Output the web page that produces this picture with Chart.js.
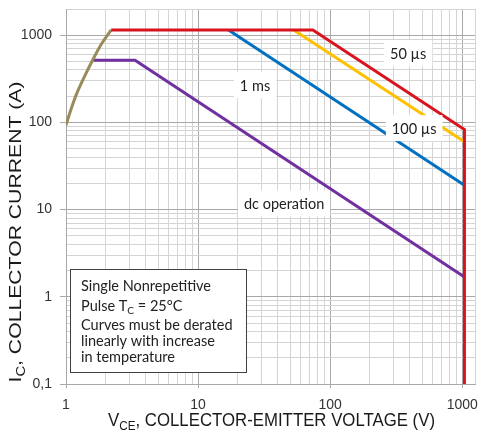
<!DOCTYPE html>
<html lang="en">
<head>
  <meta charset="UTF-8" />
  <title>Safe Operating Area</title>
  <script src="https://cdn.jsdelivr.net/npm/chart.js@4.4.0/dist/chart.umd.min.js"></script>
  <style>
    body { margin: 0; background: #fff; }
    #wrap { width: 479px; height: 441px; }
  </style>
</head>
<body>
  <div id="wrap"><canvas id="soa" width="479" height="441"></canvas></div>

  <script>
    // SOA boundaries (V in volts, I in amps)
    const rampV = [1, 1.085, 1.205, 1.376, 1.59, 1.864, 2.2];
    const rampI = [93, 138, 214, 333, 517, 803, 1150];
    const us50V = [2.2, 74, 1040, 1040];
    const us50I = [1150, 1150, 83, 0.1];
    const us100V = [53, 1040];
    const us100I = [1150, 60];
    const ms1V = [17, 1040];
    const ms1I = [1150, 19];
    const dcV = [1.59, 3.33, 1040];
    const dcI = [517, 517, 1.69];

    const xTickVals = [1, 10, 100, 1000];
    const xTickLabels = ['1', '10', '100', '1000'];
    const yTickVals = [0.1, 1, 10, 100, 1000];
    const yTickLabels = ['0,1', '1', '10', '100', '1000'];

    // curve captions, anchored at data coordinates
    const capText = ['50 µs', '1 ms', '100 µs', 'dc operation'];
    const capV = [390, 27, 433, 44.8];
    const capI = [622, 267, 86, 11.8];

    const noteLines = ['Single Nonrepetitive', 'Pulse T_{C} = 25°C', 'Curves must be derated',
                       'linearly with increase', 'in temperature'];
    const xTitle = 'V_{CE}, COLLECTOR-EMITTER VOLTAGE (V)';
    const yTitle = 'I_{C}, COLLECTOR CURRENT (A)';

    const SANS = '"Liberation Sans", Arial, sans-serif';
    const NOTE = 'Lato, "Open Sans", sans-serif';

    // grid lines at 1..9 of every decade
    function decadeGrid(from, to) {
      const out = [];
      for (let d = from; d < to; d *= 10) {
        for (let m = 1; m <= 9; m++) out.push(Number((m * d).toPrecision(3)));
      }
      return out;
    }
    const xGrid = decadeGrid(1, 1000).concat([1000, 1250]);
    const yGrid = decadeGrid(0.1, 1000).concat([1000, 2000]);

    const isMajor = (v, list) => list.some(t => Math.abs(t - v) < t * 1e-6);
    function tickLabel(v, vals, labels) {
      const i = vals.findIndex(t => Math.abs(t - v) < t * 1e-6);
      return i >= 0 ? labels[i] : '';
    }

    function pts(xs, ys) { return xs.map((x, i) => ({x: x, y: ys[i]})); }
    function curve(label, xs, ys, color, tension) {
      return {
        label: label, data: pts(xs, ys), borderColor: color, borderWidth: 3,
        pointRadius: 0, tension: tension || 0, fill: false
      };
    }

    // text with _{sub} parts
    function parts(s) {
      const out = [];
      const re = /_\{([^}]*)\}/g;
      let last = 0, m;
      while ((m = re.exec(s))) {
        if (m.index > last) out.push({t: s.slice(last, m.index), sub: false});
        out.push({t: m[1], sub: true});
        last = re.lastIndex;
      }
      if (last < s.length) out.push({t: s.slice(last), sub: false});
      return out;
    }
    function richWidth(ctx, s, size, family) {
      let w = 0;
      parts(s).forEach(p => {
        ctx.font = (p.sub ? size * 0.7 : size) + 'px ' + family;
        w += ctx.measureText(p.t).width;
      });
      return w;
    }
    function richDraw(ctx, s, x, y, size, family) {
      parts(s).forEach(p => {
        ctx.font = (p.sub ? size * 0.7 : size) + 'px ' + family;
        ctx.fillText(p.t, x, p.sub ? y + size * 0.22 : y);
        x += ctx.measureText(p.t).width;
      });
    }

    const decor = {
      id: 'decor',
      beforeDraw(chart) {
        const c = chart.ctx;
        c.save();
        c.fillStyle = '#fff';
        c.fillRect(0, 0, chart.width, chart.height);
        c.restore();
      },
      afterDatasetsDraw(chart) {
        const c = chart.ctx, xs = chart.scales.x, ys = chart.scales.y;
        c.save();
        c.textBaseline = 'middle';
        c.textAlign = 'center';
        c.font = '14.5px ' + NOTE;
        capText.forEach((t, i) => {
          const px = xs.getPixelForValue(capV[i]);
          const py = ys.getPixelForValue(capI[i]);
          const w = c.measureText(t).width + 12;
          c.fillStyle = '#fff';
          c.fillRect(px - w / 2, py - 13, w, 26);
          c.fillStyle = '#222';
          c.fillText(t, px, py + 1);
        });

        // note box
        const bx = Math.round(xs.getPixelForValue(1.072)) + 0.5;
        const by = Math.round(ys.getPixelForValue(2.07)) + 0.5;
        c.fillStyle = '#fff';
        c.fillRect(bx, by, 176, 103);
        c.strokeStyle = '#404040';
        c.lineWidth = 1;
        c.strokeRect(bx, by, 176, 103);
        c.fillStyle = '#222';
        c.textAlign = 'left';
        c.textBaseline = 'alphabetic';
        const offs = [21, 41, 60, 76, 92];
        noteLines.forEach((t, i) => richDraw(c, t, bx + 10.5, by + offs[i], 14.5, NOTE));
        c.restore();
      },
      afterDraw(chart) {
        const c = chart.ctx, a = chart.chartArea;
        c.save();
        c.fillStyle = '#1a1a1a';
        c.textAlign = 'left';
        c.textBaseline = 'alphabetic';
        // x title
        let w = richWidth(c, xTitle, 18.5, SANS);
        c.translate((a.left + a.right) / 2 + 1, 426);
        c.scale(327 / w, 1);
        richDraw(c, xTitle, -w / 2, 0, 18.5, SANS);
        c.restore();
        c.save();
        c.fillStyle = '#1a1a1a';
        // y title
        w = richWidth(c, yTitle, 17, SANS);
        c.translate(21, 232);
        c.rotate(-Math.PI / 2);
        c.scale(301 / w, 1);
        richDraw(c, yTitle, -w / 2, 0, 17, SANS);
        c.restore();
      }
    };

    const gridColor = (vals) => (ctx) => {
      if (!ctx.tick) return '#d0d0d0';
      return isMajor(ctx.tick.value, vals) ? '#a8a8a8' : '#d4d4d4';
    };
    const tickMarkColor = (vals) => (ctx) =>
      ctx.tick && isMajor(ctx.tick.value, vals) ? '#a8a8a8' : 'rgba(0,0,0,0)';

    // drop the label overhang padding so the plot area is set by layout.padding alone
    function noPad(s) {
      s.paddingTop = 0; s.paddingBottom = 0; s.paddingLeft = 0; s.paddingRight = 0;
    }

    const chart = new Chart(document.getElementById('soa'), {
      type: 'line',
      data: {
        datasets: [
          curve('50 µs', us50V, us50I, '#d9141e'),
          curve('ramp', rampV, rampI, '#988b5b', 0.35),
          curve('100 µs', us100V, us100I, '#ffc000'),
          curve('1 ms', ms1V, ms1I, '#0070c0'),
          curve('dc operation', dcV, dcI, '#7030a0')
        ]
      },
      options: {
        responsive: false,
        animation: false,
        devicePixelRatio: 1,
        layout: { padding: { top: 9, right: 4, left: 0, bottom: 0 } },
        plugins: { legend: { display: false }, tooltip: { enabled: false } },
        scales: {
          x: {
            type: 'logarithmic', min: 1, max: 1250,
            afterFit: s => { s.height = 57; noPad(s); },
            afterBuildTicks: s => { s.ticks = xGrid.map(v => ({value: v})); },
            ticks: {
              autoSkip: false, maxRotation: 0, padding: 9, color: '#333',
              font: { family: SANS, size: 14 },
              callback: v => tickLabel(v, xTickVals, xTickLabels)
            },
            grid: { color: gridColor(xTickVals), tickColor: tickMarkColor(xTickVals), tickLength: 4 },
            border: { color: '#a8a8a8' }
          },
          y: {
            type: 'logarithmic', min: 0.1, max: 2000,
            afterFit: s => { s.width = 66; noPad(s); },
            afterBuildTicks: s => { s.ticks = yGrid.map(v => ({value: v})); },
            ticks: {
              autoSkip: false, padding: 8, color: '#333',
              font: { family: SANS, size: 14 },
              callback: v => tickLabel(v, yTickVals, yTickLabels)
            },
            grid: { color: gridColor(yTickVals), tickColor: tickMarkColor(yTickVals), tickLength: 6 },
            border: { color: '#a8a8a8' }
          }
        }
      },
      plugins: [decor]
    });
  </script>
</body>
</html>
